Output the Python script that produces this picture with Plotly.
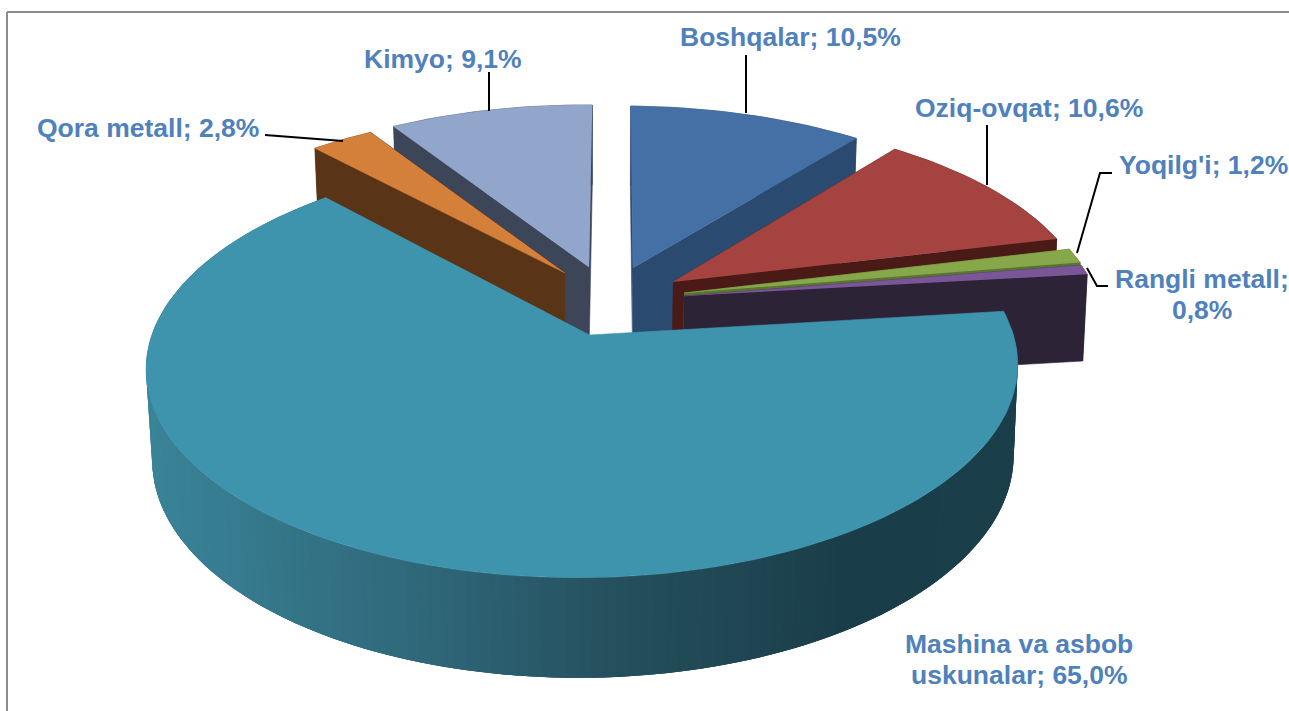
import numpy as np
import plotly.graph_objects as go

# ---- data ----
categories = ["Boshqalar", "Oziq-ovqat", "Yoqilg'i", "Rangli metall",
              "Mashina va asbob uskunalar", "Qora metall", "Kimyo"]
values = [10.5, 10.6, 1.2, 0.8, 65.0, 2.8, 9.1]

# ---- styles ----
top_colors = ["#4470A6", "#A54340", "#86A84A", "#7A5597", "#3F94AD", "#D5803A", "#92A6CC"]
side_colors = ["#2B4A70", "#4A1A17", "#5A7530", "#2D2337", None, "#593416", "#3D4659"]
# where each slice's tip sits on the page (explosion of the slice)
tip_px = [(633, 268), (673, 282), (684, 293), (684, 296), (590, 335), (565, 273), (589, 267)]
radius_u = [1.0, 1.006, 1.004, 1.004, 0.99, 0.985, 0.985]
radius_v = [0.995, 1.0, 1.0, 1.0, 1.0, 0.985, 0.995]
draw_order = [0, 6, 5, 1, 2, 3, 4]
label_lines = {4: ["Mashina va asbob", "uskunalar; {v}"], 3: ["Rangli metall;", "{v}"]}
label_px = {0: (790, 37), 1: (1029, 108), 2: (1203, 165), 3: (1202, 279),
            4: (1019, 644), 5: (148, 128), 6: (443, 59)}
leaders = [[(746, 55), (746, 113)], [(987, 125), (987, 185)], [(1112, 173), (1100, 173), (1077, 253)],
           [(1108, 286), (1097, 286), (1087, 268)], [(489, 72), (489, 111)], [(265, 135), (343, 141)]]
TEXT = "#4F81BD"

# ---- projection of the tilted disc ----
X0, Y0, A, C, B, K, M = 590.0, 335.0, 435.0, 3.8, 206.0, 0.151, 0.0172
Y0B, BB, AB, MB = 424.5, 215.0, 430.0, 0.015


def proj(u, v, low=False):
    a, b, y0, m = (AB, BB, Y0B, MB) if low else (A, B, Y0, M)
    w = 1 + m * np.asarray(u) + K * np.asarray(v)
    return X0 + (a * u + C * v) / w, y0 - b * v / w


def unproject(x, y):
    dx, dy = x - X0, Y0 - y
    mat = np.array([[A - dx * M, C - dx * K], [-dy * M, B - dy * K]])
    return np.linalg.solve(mat, [dx, dy])


def poly(fig, xs, ys, color, width=0.6):
    fig.add_trace(go.Scatter(x=list(xs), y=list(ys), mode="lines", fill="toself", fillcolor=color,
                             line=dict(color=color, width=width), hoverinfo="skip", showlegend=False))


def wall_color(x):
    stops_x = [150, 430, 620, 850, 1020]
    stops = np.array([[0x3A, 0x84, 0x98], [0x2F, 0x67, 0x79], [0x25, 0x50, 0x5D], [0x1A, 0x3E, 0x49], [0x1C, 0x40, 0x4B]])
    c = [np.interp(x, stops_x, stops[:, i]) for i in range(3)]
    return "rgb(%d,%d,%d)" % tuple(c)


fig = go.Figure()
edges = np.concatenate([[0], np.cumsum(values)]) / sum(values) * 2 * np.pi

for i in draw_order:
    t0, t1 = edges[i], edges[i + 1]
    ou, ov = unproject(*tip_px[i])
    n = max(8, int((t1 - t0) * 40))
    th = np.linspace(t0, t1, n + 1)
    uu, vv = ou + radius_u[i] * np.sin(th), ov + radius_v[i] * np.cos(th)
    xt, yt = proj(uu, vv)
    xb, yb = proj(uu, vv, low=True)
    ax, ay = proj(ou, ov)
    bx, by = proj(ou, ov, low=True)
    if side_colors[i] is not None:
        # cut faces and rim
        poly(fig, [ax, xt[0], xb[0], bx], [ay, yt[0], yb[0], by], side_colors[i])
        poly(fig, [ax, xt[-1], xb[-1], bx], [ay, yt[-1], yb[-1], by], side_colors[i])
        poly(fig, np.r_[xt, xb[::-1]], np.r_[yt, yb[::-1]], side_colors[i])
    else:
        # rim with a left-to-right shade: a base sweep, then overlapping strips
        poly(fig, np.r_[xt, xb[::-1]], np.r_[yt, yb[::-1]], wall_color(600), width=0)
        for j in range(n):
            k = min(j + 2, n)
            col = wall_color((xt[j] + xt[j + 1]) / 2)
            sub = np.arange(j, k + 1)
            poly(fig, np.r_[xt[sub], xb[sub][::-1]], np.r_[yt[sub], yb[sub][::-1]], col, width=0)
    poly(fig, np.r_[ax, xt], np.r_[ay, yt], top_colors[i])

for pts in leaders:
    fig.add_trace(go.Scatter(x=[p[0] for p in pts], y=[p[1] for p in pts], mode="lines",
                             line=dict(color="#000000", width=2), hoverinfo="skip", showlegend=False))

annotations = []
for i, cat in enumerate(categories):
    val = f"{values[i]:.1f}%".replace(".", ",")
    lines = [s.format(v=val) for s in label_lines.get(i, [f"{cat}; {val}"])]
    x, y = label_px[i]
    for j, text in enumerate(lines):
        annotations.append(dict(x=x, y=y + 31 * j, text=text, showarrow=False, xref="x", yref="y",
                                xanchor="center", yanchor="middle",
                                font=dict(family="Liberation Sans", size=26.5, color=TEXT, weight="bold")))

fig.update_layout(
    width=1289, height=711, margin=dict(l=0, r=0, t=0, b=0),
    paper_bgcolor="white", plot_bgcolor="white", showlegend=False,
    xaxis=dict(range=[0, 1289], visible=False, fixedrange=True),
    yaxis=dict(range=[711, 0], visible=False, fixedrange=True),
    annotations=annotations,
    shapes=[dict(type="line", x0=7, x1=1289, y0=12, y1=12, xref="x", yref="y", line=dict(color="#8C8C8C", width=2)),
            dict(type="line", x0=7, x1=7, y0=12, y1=711, xref="x", yref="y", line=dict(color="#8C8C8C", width=2))],
)
fig.write_html("out.html", config={"displayModeBar": False},
               post_script="document.body.style.margin='0';document.body.style.overflow='hidden';")
